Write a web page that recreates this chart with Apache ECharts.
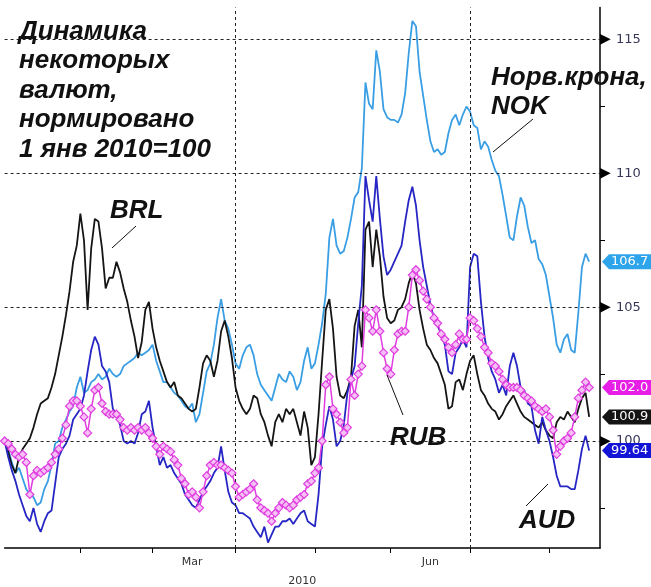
<!DOCTYPE html>
<html>
<head>
<meta charset="utf-8">
<script src="https://cdn.jsdelivr.net/npm/echarts@6/dist/echarts.min.js"></script>
<style>html,body{margin:0;padding:0;background:#fff;}#c{width:651px;height:587px;}</style>
</head>
<body>
<div id="c"></div>
<script>
// ---- data (index 0 = 1 Jan 2010, business days) ----
const startDate = '2010-01-01';
const categoryCount = 166;
const nok = [100.0,99.7,99.2,98.8,99.0,98.6,98.2,98.0,97.9,97.6,97.7,98.2,98.5,99.1,99.9,100.0,100.5,100.8,101.1,101.3,102.0,102.4,101.8,101.9,102.2,102.3,102.5,102.3,102.4,102.7,102.5,102.4,102.5,102.8,102.9,103.0,103.1,103.3,103.2,103.3,103.4,103.6,103.0,102.6,102.2,102.2,102.0,101.8,101.7,101.5,101.3,101.2,101.4,100.7,101.0,101.8,102.6,102.9,103.6,104.6,105.3,104.5,104.2,103.6,102.9,102.7,103.2,103.5,103.6,103.2,102.5,102.1,101.9,101.7,101.5,102.0,102.5,102.3,102.2,102.6,102.4,101.9,102.2,103.0,103.5,102.7,102.9,103.6,104.4,105.5,107.6,108.3,107.3,107.0,107.1,107.6,108.3,109.1,109.3,110.2,113.4,112.6,112.4,114.6,113.8,112.4,112.1,112.0,112.0,111.9,112.2,113.0,114.5,115.7,115.5,113.8,112.9,112.0,111.2,110.8,110.9,110.7,110.8,111.5,112.0,112.2,111.8,112.2,112.5,112.3,111.8,111.7,110.9,111.2,111.0,110.5,110.1,109.9,109.2,108.4,107.6,107.5,108.4,109.1,108.8,108.0,107.4,107.5,106.8,106.6,106.2,105.4,104.6,103.6,103.3,103.8,104.0,103.4,103.3,104.8,106.5,107.0,106.7];
const brl = [100.0,99.6,99.1,98.8,99.4,99.7,99.9,100.1,100.5,101.0,101.4,101.5,101.6,102.0,102.5,103.2,103.9,104.7,105.6,106.7,107.3,108.5,107.5,104.9,107.2,108.3,108.2,107.2,105.7,106.1,106.1,106.7,106.3,105.7,105.2,104.5,103.9,103.1,103.7,104.9,105.2,104.2,103.5,103.0,102.6,102.2,102.0,102.2,101.7,101.6,101.4,101.2,101.1,101.2,102.0,102.9,103.2,103.0,102.4,103.0,104.1,104.5,103.9,103.1,102.0,101.5,101.2,101.0,101.2,101.7,101.6,101.0,100.7,100.2,99.8,100.7,101.0,100.7,101.2,101.0,101.2,100.7,100.2,101.1,100.5,99.1,99.4,101.0,103.0,104.9,105.3,104.2,102.4,101.7,101.6,101.9,102.4,104.3,104.9,103.5,107.9,108.2,106.5,107.9,106.9,105.4,104.6,104.4,104.5,104.9,105.0,105.3,105.9,106.3,105.9,104.9,104.2,103.6,103.4,103.1,102.9,102.5,102.1,101.2,101.3,102.2,102.3,101.9,102.5,103.0,103.2,102.5,101.9,101.7,101.4,101.2,101.1,100.8,101.0,101.3,101.5,101.7,101.4,101.1,100.9,100.8,100.7,100.6,100.5,100.7,100.4,100.2,100.1,100.7,100.9,100.8,101.1,100.9,100.7,101.2,101.6,101.8,100.9];
const aud = [100.0,99.4,98.9,98.5,98.0,97.6,97.2,97.0,97.5,96.9,96.6,97.0,97.3,97.4,98.4,99.4,99.7,99.9,100.2,100.8,101.0,101.2,101.7,102.6,103.4,103.9,103.6,102.8,102.6,102.2,101.2,101.0,100.6,100.0,99.9,100.0,99.9,100.3,101.0,101.1,101.5,100.5,99.8,99.1,99.4,99.0,99.1,98.8,98.6,98.4,98.0,97.8,97.6,97.5,97.8,98.1,98.3,98.5,98.8,99.0,99.8,98.9,98.1,97.7,97.6,97.3,97.3,97.2,97.1,96.8,96.6,96.4,96.8,96.2,96.5,96.8,96.8,97.0,97.0,97.1,96.9,97.1,97.3,97.4,97.0,96.9,96.8,98.0,99.8,100.6,101.3,100.8,99.8,100.0,100.6,101.8,102.3,102.8,104.4,105.8,109.9,109.0,108.2,109.9,108.3,106.9,106.2,106.4,106.7,107.0,107.3,108.2,109.0,109.5,108.8,107.5,106.5,105.8,105.1,104.6,104.3,104.0,103.6,102.6,102.5,103.3,103.5,103.8,103.5,106.5,107.0,106.9,105.2,103.9,103.1,102.6,102.3,101.8,102.1,101.7,102.8,103.3,102.8,102.0,101.9,101.4,101.3,100.4,99.9,100.9,100.4,100.0,99.4,98.7,98.3,98.3,98.3,98.2,98.2,98.9,99.7,100.2,99.64];
const rub = [100.0,99.9,99.7,99.5,99.4,99.5,99.2,98.0,98.7,98.9,98.8,98.9,99.0,99.2,99.5,99.7,100.1,100.6,101.3,101.5,101.5,101.3,100.9,100.3,101.2,101.9,102.0,101.4,101.1,101.0,101.0,101.0,100.8,100.5,100.4,100.5,100.4,100.5,100.4,100.5,100.3,100.1,99.8,99.5,99.8,99.7,99.6,99.3,99.1,98.6,98.4,98.0,98.1,97.9,97.5,98.1,98.7,99.1,99.2,99.1,99.1,99.0,98.9,98.8,98.3,97.9,98.0,98.1,98.2,98.4,97.8,97.5,97.4,97.3,97.0,97.3,97.5,97.7,97.6,97.5,97.6,97.8,97.9,98.0,98.4,98.5,98.8,99.0,100.0,102.1,102.4,101.2,101.0,100.7,100.3,100.5,102.3,101.7,102.5,102.8,104.9,104.6,104.1,104.9,104.1,103.3,102.7,102.5,103.4,104.0,104.1,104.1,105.0,106.2,106.4,106.0,105.6,105.3,105.0,104.6,104.4,104.0,103.8,103.5,103.3,103.6,104.0,103.8,103.8,104.6,104.5,104.2,103.9,103.5,103.3,102.9,102.8,102.6,102.3,102.1,102.0,102.0,102.0,101.9,101.7,101.6,101.5,101.3,101.2,101.1,101.2,100.9,100.4,99.5,99.8,100.0,100.1,100.3,100.9,101.6,101.9,102.2,102.0];
const seriesNames = ['NOK', 'BRL', 'AUD', 'RUB'];
const lastTags = ['106.7', '100.9', '99.64', '102.0'];
const yMajorTicks = [100, 105, 110, 115];
const yMinorTicks = [97.5, 102.5, 107.5, 112.5];
const xMonthLabels = ['Mar', 'Jun'];
const xMonthLabelDates = ['2010-03-16', '2010-06-16'];
const quarterLineDates = ['2010-04-01', '2010-07-01'];
const xAxisName = '2010';
const titleText = 'Динамика\nнекоторых\nвалют,\nнормировано\n1 янв 2010=100';

// ---- categories: business days ----
function businessDays(start, n) {
  const out = [];
  const d = new Date(start + 'T00:00:00Z');
  while (out.length < n) {
    const w = d.getUTCDay();
    if (w !== 0 && w !== 6) out.push(d.toISOString().slice(0, 10));
    d.setUTCDate(d.getUTCDate() + 1);
  }
  return out;
}
const categories = businessDays(startDate, categoryCount);
const labelMap = {};
xMonthLabelDates.forEach((d, k) => { labelMap[d] = xMonthLabels[k]; });
function isMonthStart(idx) {
  return idx > 0 && categories[idx].slice(5, 7) !== categories[idx - 1].slice(5, 7);
}

const colors = { NOK: '#3a9ee4', BRL: '#151515', AUD: '#2626c4', RUB: '#e03ce0' };
const tagColors = ['#2ea4ea', '#141414', '#1414d6', '#e61ee6'];
const seriesData = [nok, brl, aud, rub];

const chart = echarts.init(document.getElementById('c'), null, { renderer: 'canvas' });

const dashStyle = { type: [3, 3], color: '#222', width: 1 };

const option = {
  animation: false,
  backgroundColor: '#fff',
  grid: { left: 4.6, right: 51, top: 7.5, bottom: 39, containLabel: false, outerBoundsMode: 'none' },
  xAxis: {
    type: 'category',
    data: categories,
    boundaryGap: false,
    axisLine: { lineStyle: { color: '#000', width: 1.5 } },
    axisTick: { interval: (idx) => isMonthStart(idx), length: 5, lineStyle: { color: '#000', width: 1 } },
    axisLabel: {
      interval: (idx, val) => labelMap[val] !== undefined,
      formatter: (val) => labelMap[val] || '',
      color: '#333', fontSize: 11, fontFamily: 'DejaVu Sans', margin: 9
    },
    splitLine: { show: false },
    name: xAxisName, nameLocation: 'middle', nameGap: 28,
    nameTextStyle: { color: '#333', fontSize: 11, fontFamily: 'DejaVu Sans' }
  },
  yAxis: {
    type: 'value',
    position: 'right',
    min: 96, max: 116.2,
    axisLine: { show: true, lineStyle: { color: '#000', width: 1.5 } },
    axisTick: { show: true, customValues: yMinorTicks, length: 5, lineStyle: { color: '#000', width: 1 } },
    axisLabel: {
      customValues: yMajorTicks,
      margin: 0,
      formatter: (v) => '{a|▶}{b|' + v + '}',
      rich: {
        a: { fontSize: 14, color: '#000', fontFamily: 'DejaVu Sans', width: 16 },
        b: { fontSize: 13, color: '#363658', fontFamily: 'DejaVu Sans' }
      }
    },
    splitLine: { show: false }
  },
  series: seriesNames.map((name, k) => {
    const s = {
      name: name,
      type: 'line',
      data: seriesData[k],
      symbol: 'none',
      lineStyle: { color: colors[name], width: 1.8 },
      itemStyle: { color: colors[name] },
      z: 2 + k
    };
    if (name === 'RUB') {
      s.symbol = 'diamond';
      s.symbolSize = 8;
      s.showAllSymbol = true;
      s.itemStyle = { color: '#f5c0f5', borderColor: '#e03ce0', borderWidth: 1.2 };
      s.lineStyle = { color: '#e03ce0', width: 1.5 };
    }
    if (k === 0) {
      s.markLine = {
        silent: true, symbol: ['none', 'none'], label: { show: false },
        lineStyle: dashStyle, animation: false,
        data: yMajorTicks.map(v => ({ yAxis: v })).concat(quarterLineDates.map(d => ({ xAxis: d })))
      };
    }
    return s;
  })
};
chart.setOption(option);

// ---- graphics: title, annotations, end tags ----
const font = { fontStyle: 'italic', fontWeight: 'bold', fontSize: 26, fontFamily: '"Liberation Sans", Arial, sans-serif' };
function label(text, x, y) {
  return { type: 'text', x: x, y: y, z: 50, style: Object.assign({ text: text, fill: '#111', textVerticalAlign: 'middle' }, font) };
}
function leader(x1, y1, x2, y2) {
  return { type: 'line', z: 50, shape: { x1: x1, y1: y1, x2: x2, y2: y2 }, style: { stroke: '#111', lineWidth: 1 } };
}
const graphics = [
  { type: 'text', x: 19, y: 17, z: 50, style: Object.assign({ text: titleText, fill: '#111', textVerticalAlign: 'top', lineHeight: 29.5 }, font) },
  label('BRL', 110, 211), leader(136, 226, 112, 248),
  label('Норв.крона,', 491, 78), label('NOK', 491, 107), leader(533, 119, 493, 152),
  label('RUB', 390, 438), leader(403, 415, 387, 375),
  label('AUD', 519, 521), leader(526, 506, 548, 484)
];
const axisX = chart.convertToPixel({ xAxisIndex: 0 }, categories[categoryCount - 1]);
seriesData.forEach((arr, k) => {
  const y = chart.convertToPixel({ yAxisIndex: 0 }, arr[arr.length - 1]);
  const x0 = axisX + 2;
  graphics.push({
    type: 'polygon', z: 60,
    shape: { points: [[x0, y], [x0 + 7, y - 7.5], [x0 + 60, y - 7.5], [x0 + 60, y + 7.5], [x0 + 7, y + 7.5]] },
    style: { fill: tagColors[k] }
  });
  graphics.push({
    type: 'text', z: 61, x: x0 + 9, y: y,
    style: { text: lastTags[k], fill: '#fff', fontSize: 13, fontFamily: 'DejaVu Sans', textVerticalAlign: 'middle' }
  });
});
chart.setOption({ graphic: graphics });
</script>
</body>
</html>
